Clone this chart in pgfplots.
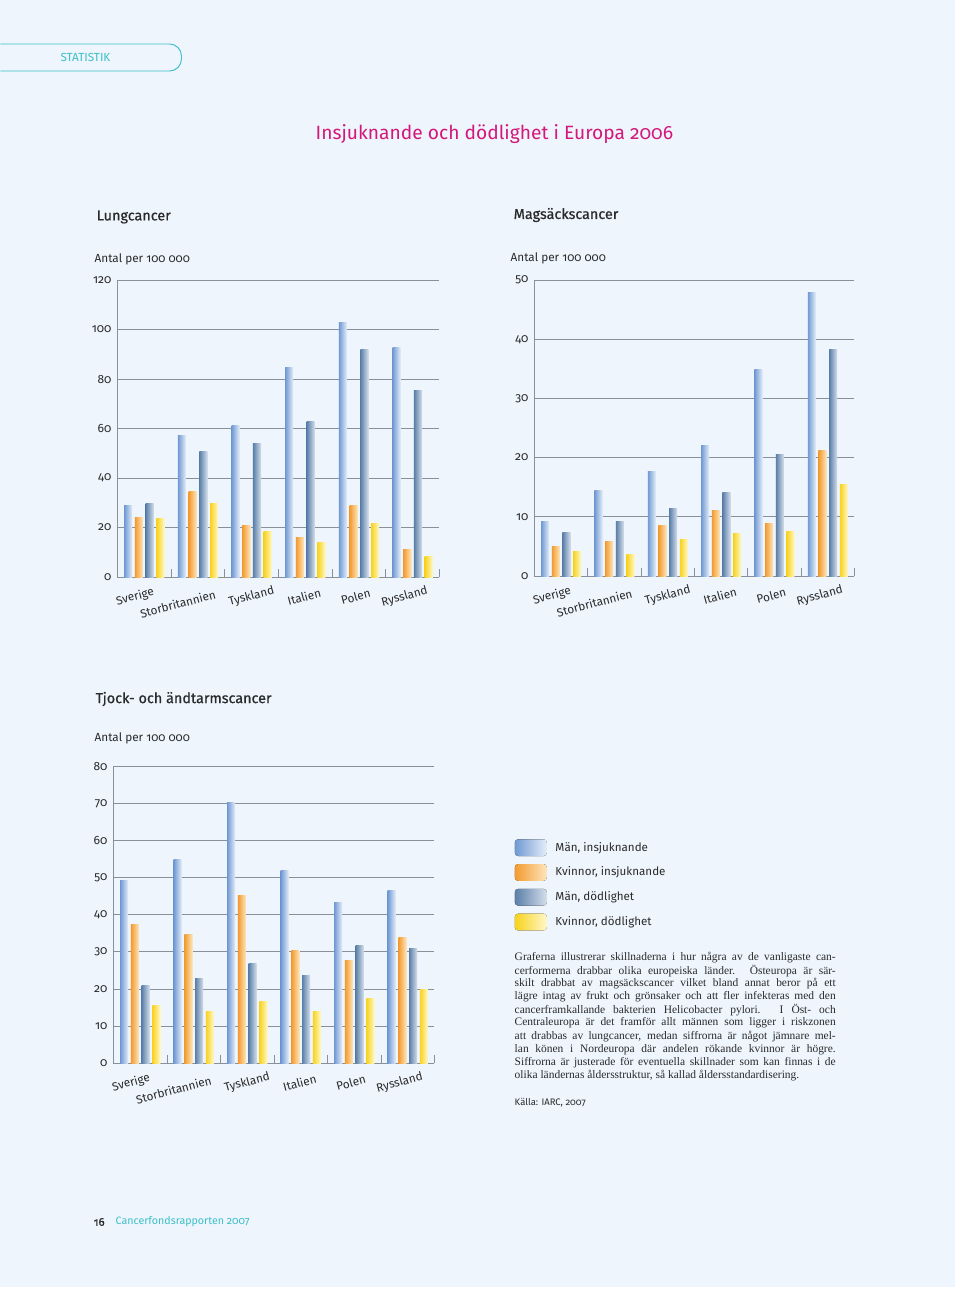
\documentclass[border=0pt]{standalone}
\usepackage{pgfplots}
\pgfplotsset{compat=1.18}
\usepackage{fontspec}
\setmainfont{Fira Sans}[Numbers=OldStyle]
\newfontfamily\medium{Fira Sans}[Numbers=OldStyle, FakeBold=0.6]
\newfontfamily\serif{Liberation Serif}

\definecolor{bg}{HTML}{EEF5FD}
\definecolor{gridc}{HTML}{8A9099}
\definecolor{txt}{HTML}{2A2A2A}
\definecolor{pink}{HTML}{D4177B}
\definecolor{teal}{HTML}{3DBFC8}
\definecolor{miL}{HTML}{7099D3}
\definecolor{miR}{HTML}{E4EDF9}
\definecolor{kiL}{HTML}{F39A2E}
\definecolor{kiR}{HTML}{FDE6BC}
\definecolor{mdL}{HTML}{5A7FA8}
\definecolor{mdR}{HTML}{D4DEEB}
\definecolor{kdL}{HTML}{F8D21C}
\definecolor{kdR}{HTML}{FFF8C8}

\pgfplotsset{
  cancerchart/.style={
    scale only axis,
    xmin=-0.5, xmax=5.5, ymin=0,
    axis lines*=left,
    axis line style={draw=gridc, line width=0.6pt},
    ymajorgrids, grid style={draw=gridc, line width=0.6pt},
    % label centres sit a little left of the group centres, as in the original
    xtick={-0.27,0.49,1.90,2.88,3.84,4.75},
    xticklabels={Sverige,{\rule{0pt}{18pt}Storbritannien},Tyskland,Italien,Polen,Ryssland},
    minor xtick={0.5,1.5,...,5.5},
    major tick length=0pt, minor tick length=6pt, tick align=inside,
    minor tick style={draw=gridc, line width=0.6pt},
    xticklabel style={rotate=15, anchor=center, yshift=-15.4pt,
      font=\fontsize{8.8}{10}\selectfont, text=txt},
    yticklabel style={font=\fontsize{9}{10}\selectfont, text=txt, xshift=-1pt},
    /pgf/number format/assume math mode=true,
    clip=false,
  },
  mi/.style={ybar, bar width=0.15, bar shift=-0.3, draw=none, left color=miL, right color=miR},
  ki/.style={ybar, bar width=0.15, bar shift=-0.1, draw=none, left color=kiL, right color=kiR},
  md/.style={ybar, bar width=0.15, bar shift=0.1, draw=none, left color=mdL, right color=mdR},
  kd/.style={ybar, bar width=0.15, bar shift=0.3, draw=none, left color=kdL, right color=kdR},
}

% one country: position, men incidence, women incidence, men mortality, women mortality
\newcommand\grp[5]{%
  \addplot[mi] coordinates {(#1,#2)};
  \addplot[ki] coordinates {(#1,#3)};
  \addplot[md] coordinates {(#1,#4)};
  \addplot[kd] coordinates {(#1,#5)};
}

\begin{document}
\begin{tikzpicture}
\begin{scope}[x=0.75pt, y=-0.75pt]
  \fill[white] (0,0) rectangle (960,1291);
  \fill[bg] (0,0) rectangle (955,1287);
  \draw[teal, line width=0.7pt, rounded corners=9] (0,44) -- (181,44) -- (181,71) -- (0,71);
  \node[teal, font=\fontsize{8.8}{10}\selectfont] at (85,57) {STATISTIK};
  \node[pink, font=\fontsize{14.4}{16}\selectfont] at (494,134) {Insjuknande och dödlighet i Europa 2006};

  \node[txt, anchor=west, inner sep=0pt, font=\medium\fontsize{10.8}{12}\selectfont] at (96,217) {Lungcancer};
  \node[txt, anchor=west, inner sep=0pt, font=\fontsize{8.8}{10}\selectfont] at (94,259) {Antal per 100 000};
  \node[txt, anchor=west, inner sep=0pt, font=\medium\fontsize{10.8}{12}\selectfont] at (513,215) {Magsäckscancer};
  \node[txt, anchor=west, inner sep=0pt, font=\fontsize{8.8}{10}\selectfont] at (510,258) {Antal per 100 000};
  \node[txt, anchor=west, inner sep=0pt, font=\medium\fontsize{10.8}{12}\selectfont] at (95,699) {Tjock- och ändtarmscancer};
  \node[txt, anchor=west, inner sep=0pt, font=\fontsize{8.8}{10}\selectfont] at (94,738) {Antal per 100 000};

  % text block
  \begin{scope}[every node/.style={txt, anchor=west, inner sep=0pt, font=\serif\fontsize{8.6}{10}\selectfont}]
    \node at (514,958) {\makebox[240.75pt][s]{Graferna illustrerar skillnaderna i hur några av de vanligaste can-}};
    \node at (514,971) {\makebox[240.75pt][s]{cerformerna drabbar olika europeiska länder. Östeuropa är sär-}};
    \node at (514,984) {\makebox[240.75pt][s]{skilt drabbat av magsäckscancer vilket bland annat beror på ett}};
    \node at (514,997) {\makebox[240.75pt][s]{lägre intag av frukt och grönsaker och att fler infekteras med den}};
    \node at (514,1010) {\makebox[240.75pt][s]{cancerframkallande bakterien Helicobacter pylori. I Öst- och}};
    \node at (514,1023) {\makebox[240.75pt][s]{Centraleuropa är det framför allt männen som ligger i riskzonen}};
    \node at (514,1037) {\makebox[240.75pt][s]{att drabbas av lungcancer, medan siffrorna är något jämnare mel-}};
    \node at (514,1050) {\makebox[240.75pt][s]{lan könen i Nordeuropa där andelen rökande kvinnor är högre.}};
    \node at (514,1063) {\makebox[240.75pt][s]{Siffrorna är justerade för eventuella skillnader som kan finnas i de}};
    \node at (514,1076) {olika ländernas åldersstruktur, så kallad åldersstandardisering.};
  \end{scope}
  \node[txt, anchor=west, inner sep=0pt, font=\fontsize{7.1}{8}\selectfont] at (514,1103) {Källa: IARC, 2007};
  \node[txt, anchor=west, inner sep=0pt, font=\medium\fontsize{8.5}{10}\selectfont] at (93,1222) {16};
  \node[teal, anchor=west, inner sep=0pt, font=\fontsize{8}{10}\selectfont] at (115,1222) {Cancerfondsrapporten 2007};
\end{scope}

% Lungcancer
\begin{axis}[cancerchart, at={(117*0.75pt,-577*0.75pt)}, anchor=south west,
  width=241.5pt, height=222.75pt, ymax=120, ytick={0,20,...,120}]
  \grp{0}{28.7}{24.0}{29.9}{23.6}
  \grp{1}{57.1}{34.6}{50.8}{29.9}
  \grp{2}{61.1}{20.9}{53.9}{18.3}
  \grp{3}{84.8}{15.8}{63.0}{14.1}
  \grp{4}{103.0}{28.8}{92.0}{21.8}
  \grp{5}{92.7}{11.3}{75.3}{8.1}
\end{axis}

% Magsackscancer
\begin{axis}[cancerchart, at={(534*0.75pt,-576*0.75pt)}, anchor=south west,
  width=240pt, height=222pt, ymax=50, ytick={0,10,...,50}]
  \grp{0}{9.2}{4.9}{7.3}{4.2}
  \grp{1}{14.4}{5.9}{9.2}{3.7}
  \grp{2}{17.6}{8.6}{11.4}{6.2}
  \grp{3}{22.1}{11.1}{14.1}{7.1}
  \grp{4}{34.9}{8.9}{20.6}{7.5}
  \grp{5}{47.9}{21.2}{38.3}{15.5}
\end{axis}

% Tjock- och andtarmscancer
\begin{axis}[cancerchart, at={(113*0.75pt,-1063*0.75pt)}, anchor=south west,
  width=240.75pt, height=222.25pt, ymax=80, ytick={0,10,...,80},
  legend style={draw=none, fill=none, at={(1.237,0.765)}, anchor=north west,
    font=\fontsize{8.7}{10}\selectfont, text=txt, row sep=6pt,
    /tikz/every odd column/.append style={column sep=4.5pt}},
  legend cell align=left,
  legend image code/.code={\fill[rounded corners=2.5pt] (0pt,-6.3pt) rectangle (24pt,6.3pt);}]
  \grp{0}{49.3}{37.4}{20.8}{15.5}
  \grp{1}{55.0}{34.8}{22.9}{14.0}
  \grp{2}{70.4}{45.2}{26.8}{16.7}
  \grp{3}{52.1}{30.4}{23.6}{14.0}
  \grp{4}{43.3}{27.8}{31.6}{17.5}
  \grp{5}{46.7}{34.0}{31.0}{19.9}
  \legend{{Män, insjuknande}, {Kvinnor, insjuknande}, {Män, dödlighet}, {Kvinnor, dödlighet}}
\end{axis}
\end{tikzpicture}
\end{document}
